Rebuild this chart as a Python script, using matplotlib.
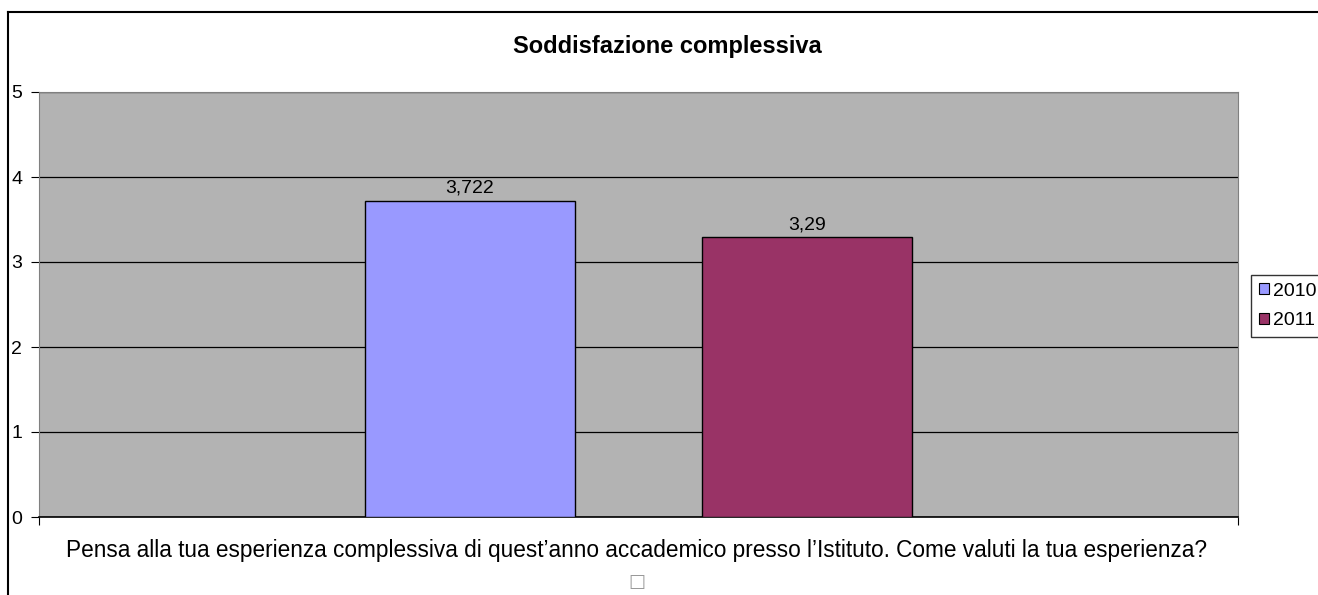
import matplotlib.pyplot as plt
from matplotlib.patches import Patch
from matplotlib.lines import Line2D

plt.rcParams['font.family'] = ['Liberation Sans', 'DejaVu Sans']

# data
years = ["2010", "2011"]
values = [3.722, 3.29]
value_labels = ["3,722", "3,29"]
colors = ["#9999FF", "#993366"]
question = ("Pensa alla tua esperienza complessiva di quest\u2019anno accademico "
            "presso l\u2019Istituto. Come valuti la tua esperienza?")

fig = plt.figure(figsize=(13.18, 5.95), dpi=100)
ax = fig.add_axes([39 / 1318, 78 / 595, 1199 / 1318, 425 / 595])
ax.set_facecolor("#B3B3B3")

width = 0.175
offsets = [-0.1405, 0.1405]
for off, v, lab, c in zip(offsets, values, value_labels, colors):
    ax.bar(off, v, width=width, color=c, edgecolor="black", linewidth=1, zorder=3)
    ax.text(off, v + 0.05, lab, ha="center", va="bottom", fontsize=14, zorder=4)

ax.set_xlim(-0.5, 0.5)
ax.set_ylim(0, 5)
ax.set_yticks(range(6))
ax.yaxis.grid(True, color="black", linewidth=0.9, zorder=1)
ax.set_axisbelow(True)
ax.set_xticks([-0.5, 0.5])
ax.set_xticklabels([])
ax.tick_params(axis="x", length=6, color="black", direction="out")
ax.tick_params(axis="y", length=6, color="black", direction="out", labelsize=14, pad=6)

for s in ["top", "right"]:
    ax.spines[s].set_color("#808080")
ax.spines["left"].set_color("#808080")
ax.spines["bottom"].set_color("black")
ax.spines["bottom"].set_linewidth(1.2)

fig.text(667 / 1318, 1 - 47 / 595, "Soddisfazione complessiva", ha="center", va="center",
         fontsize=17, fontweight="bold")
fig.text(637 / 1318, 1 - 551 / 595, question, ha="center", va="center", fontsize=16.3)
fig.text(637 / 1318, 1 - 582 / 595, "\u25a1", ha="center", va="center", fontsize=13,
         color="#999999", family=["DejaVu Sans"])

# outer chart frame
fig.add_artist(Line2D([8 / 1318, 8 / 1318], [0, 1 - 12 / 595], transform=fig.transFigure,
                      color="black", linewidth=1.5))
fig.add_artist(Line2D([8 / 1318, 1], [1 - 12 / 595, 1 - 12 / 595], transform=fig.transFigure,
                      color="black", linewidth=1.5))

handles = [Patch(facecolor=c, edgecolor="black", linewidth=0.8) for c in colors]
leg = fig.legend(handles, years, loc="upper left", bbox_to_anchor=(1251 / 1318, 1 - 275 / 595),
                 frameon=True, fancybox=False, edgecolor="black", fontsize=14,
                 handlelength=0.5, handleheight=0.5, handletextpad=0.25, borderpad=0.4,
                 labelspacing=0.65, borderaxespad=0)
leg.get_frame().set_linewidth(1)

fig.savefig("out.png", dpi=100)
